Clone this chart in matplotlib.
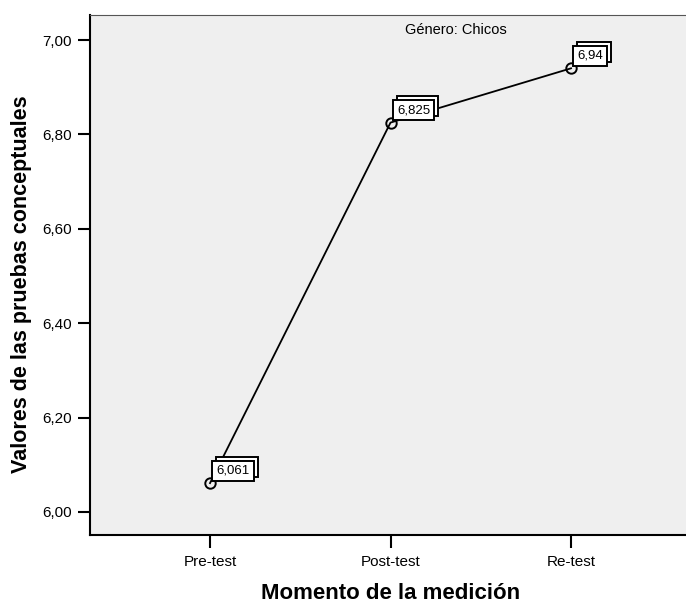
import matplotlib
matplotlib.use("Agg")
import matplotlib.pyplot as plt
from matplotlib.patches import Rectangle

plt.rcParams['font.family'] = ['Liberation Sans', 'DejaVu Sans']

momentos = ["Pre-test", "Post-test", "Re-test"]
valores = [6.061, 6.825, 6.94]
etiquetas = ["6,061", "6,825", "6,94"]
yticks = [6.00, 6.20, 6.40, 6.60, 6.80, 7.00]
ytick_labels = ["6,00", "6,20", "6,40", "6,60", "6,80", "7,00"]

fig = plt.figure(figsize=(6.86, 6.04), dpi=100)
ax = fig.add_axes([90/686, 69/604, 596/686, 520/604])
ax.set_facecolor("#efefef")

x = list(range(len(momentos)))
ax.plot(x, valores, color="black", lw=1.3, marker="o", ms=7.5,
        mfc="none", mec="black", mew=1.4, zorder=3)

textos = []
for xi, yi, lab in zip(x, valores, etiquetas):
    t = ax.annotate(lab, (xi, yi), xytext=(4.6, 4.6), textcoords="offset points",
                    fontsize=9.5, color="black", va="bottom", ha="left",
                    bbox=dict(boxstyle="square,pad=0.3", fc="white", ec="black", lw=1.4),
                    zorder=6)
    textos.append(t)

ax.set_xlim(-0.665, 2.637)
ax.set_ylim(5.951, 7.053)
ax.set_xticks(x)
ax.set_xticklabels(momentos, fontsize=11)
ax.set_yticks(yticks)
ax.set_yticklabels(ytick_labels, fontsize=11)
ax.tick_params(axis="both", direction="out", length=9, width=1.5, pad=4)
ax.tick_params(axis="x", pad=5.5)

ax.spines["right"].set_visible(False)
ax.spines["top"].set_color("#555555")
ax.spines["top"].set_linewidth(0.8)
ax.spines["left"].set_linewidth(1.5)
ax.spines["bottom"].set_linewidth(1.5)

ax.text(0.614, 0.985, "Género: Chicos", transform=ax.transAxes,
        ha="center", va="top", fontsize=10.5)

ax.set_xlabel("Momento de la medición", fontsize=16, fontweight="bold")
ax.set_ylabel("Valores de las pruebas conceptuales", fontsize=15.5, fontweight="bold")
ax.xaxis.set_label_coords(0.504, -0.092)
ax.yaxis.set_label_coords(-0.098, 0.482)

# shadow frame behind each value label, shifted up-right by a few pixels
fig.canvas.draw()
for t in textos:
    bb = t.get_bbox_patch().get_window_extent()
    sombra = Rectangle((bb.x0 + 4, bb.y0 + 4), bb.width, bb.height,
                       transform=None, fc="white", ec="black", lw=1.4, zorder=5)
    ax.add_artist(sombra)

fig.savefig("out.png", dpi=100)
